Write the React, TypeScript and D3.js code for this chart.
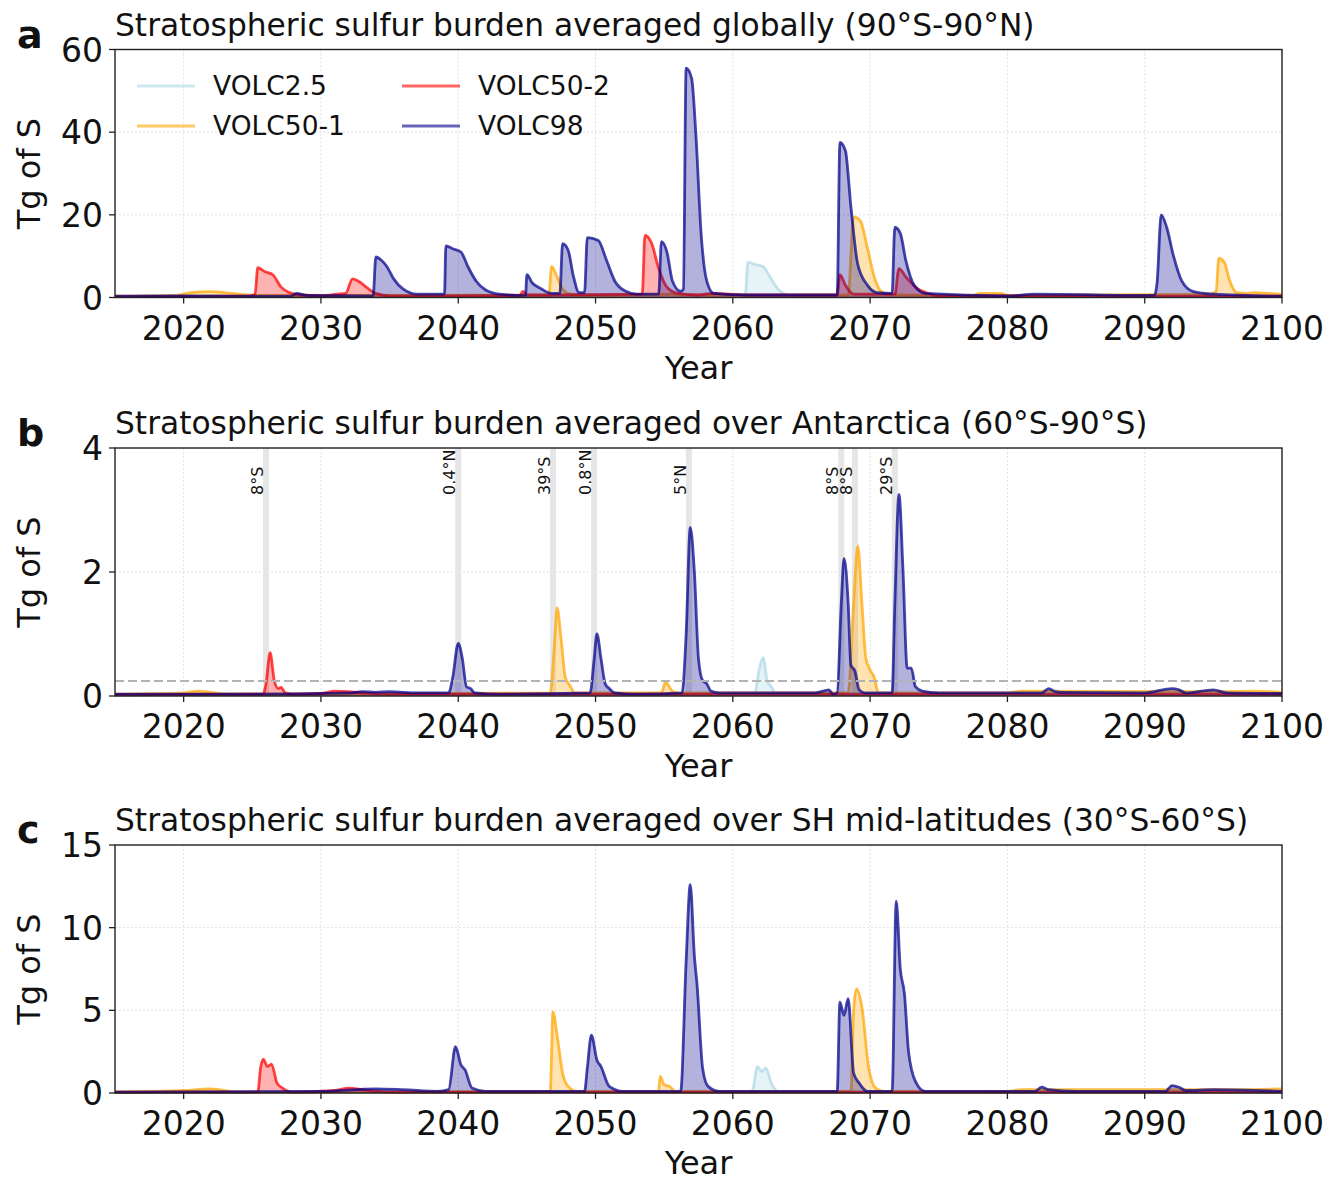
import React from "react";
import * as d3 from "d3";

// series names + colours
const seriesNames = ["VOLC2.5", "VOLC50-1", "VOLC50-2", "VOLC98"];
const seriesColors = ["lightblue", "orange", "red", "darkblue"];

// panel a: global mean burden (Tg S), [year, value]
const globalV25 = [[2015,0.2],[2020,0.5],[2022,0.5],[2024,0.3],[2055,0.5],[2055.5,1],[2056,0.4],[2060.9,0.5],[2061.1,8.5],[2061.6,8],[2062.2,7.5],[2062.7,5],[2063.3,2],[2064,0.6],[2066,0.3],[2100,0.2]];
const globalV501 = [[2015,0.3],[2019.5,0.5],[2020.5,1.2],[2022,1.4],[2023.5,1.0],[2025,0.5],[2046.6,0.6],[2046.8,7.5],[2047.2,5],[2047.6,2],[2048.2,0.8],[2050,0.5],[2055,0.8],[2060,0.5],[2068.4,0.6],[2068.8,19.5],[2069.3,18.5],[2069.8,12],[2070.3,5],[2070.8,1.5],[2071.5,0.6],[2077.5,0.5],[2078,1],[2079.5,1],[2080,0.5],[2094.8,0.8],[2095.2,1.5],[2095.4,9.5],[2095.8,8.5],[2096.2,4],[2096.7,1.2],[2097.5,1.0],[2098,1.2],[2099,1],[2100,0.8]];
const globalV502 = [[2015,0.2],[2024.5,0.3],[2025.2,0.8],[2025.4,7.2],[2025.9,6.3],[2026.5,5.5],[2027.1,2.5],[2027.7,1.2],[2028.5,0.6],[2030,0.4],[2031.2,0.8],[2031.8,1],[2032.3,4.5],[2032.8,3.8],[2033.3,2.5],[2034,1],[2035,0.4],[2044.5,0.5],[2044.7,1.5],[2045,0.6],[2053.4,0.8],[2053.6,15],[2054.1,13],[2054.6,7],[2055.2,2.5],[2056,1],[2057.5,0.6],[2058.5,1],[2061,0.6],[2067.6,0.6],[2067.8,5.5],[2068.2,3],[2068.8,0.8],[2071.8,0.8],[2072.1,7],[2072.6,5],[2073.3,2.5],[2074.2,1],[2075,0.4],[2100,0.3]];
const globalV98 = [[2015,0.3],[2020,0.4],[2022,0.3],[2027.8,0.3],[2028.2,1.0],[2029,0.5],[2033.8,0.4],[2034.0,9.8],[2034.4,9.0],[2034.8,7.5],[2035.3,4.5],[2036,2.0],[2037,0.8],[2039.0,0.8],[2039.1,12.5],[2039.6,11.8],[2040.2,11.0],[2040.7,7.5],[2041.3,4],[2042,1.8],[2043,0.8],[2044.9,0.5],[2045.0,5.5],[2045.4,3.5],[2046,2.2],[2046.8,1.0],[2047.4,1.0],[2047.6,13],[2048.0,11.5],[2048.4,5],[2048.8,1.2],[2049.2,1.2],[2049.4,14.5],[2050.2,13.8],[2050.8,9],[2051.4,4],[2052.2,1.5],[2053,0.8],[2054.6,0.8],[2054.8,13.5],[2055.2,11],[2055.6,4],[2056.2,1.5],[2056.4,2],[2056.6,55.5],[2057.0,53],[2057.3,40],[2057.7,15],[2058.1,4],[2058.6,1],[2061,0.6],[2067.6,0.6],[2067.8,37.5],[2068.2,35.5],[2068.6,22],[2069.1,8],[2069.8,3],[2070.5,1.2],[2071.6,1],[2071.8,17],[2072.2,15.5],[2072.6,9],[2073.2,3],[2074,1],[2080,0.4],[2082,0.8],[2090.7,0.5],[2090.9,3.5],[2091.2,20],[2091.6,17],[2092.1,10],[2092.7,4],[2093.5,1.5],[2095,0.8],[2100,0.3]];

// panel b: Antarctica
const antV25 = [[2015,0.02],[2038.5,0.05],[2039,0.03],[2061.6,0.04],[2061.9,0.4],[2062.2,0.62],[2062.5,0.25],[2062.8,0.15],[2063.1,0.05],[2100,0.02]];
const antV501 = [[2015,0.03],[2020,0.05],[2021,0.08],[2022,0.06],[2023,0.03],[2046.7,0.05],[2047.0,0.8],[2047.2,1.42],[2047.5,0.9],[2047.8,0.3],[2048.1,0.18],[2048.5,0.05],[2054.8,0.05],[2055.1,0.22],[2055.6,0.08],[2056,0.05],[2068.4,0.05],[2068.8,1.5],[2069.1,2.42],[2069.4,1.5],[2069.7,0.6],[2070.0,0.42],[2070.3,0.3],[2070.6,0.05],[2080,0.05],[2081,0.08],[2095,0.07],[2098,0.08],[2100,0.06]];
const antV502 = [[2015,0.02],[2025.8,0.03],[2026.0,0.2],[2026.3,0.7],[2026.6,0.25],[2026.9,0.12],[2027.1,0.14],[2027.4,0.05],[2028,0.03],[2030,0.04],[2031,0.08],[2032,0.07],[2033,0.05],[2035,0.03],[2100,0.03]];
const antV98 = [[2015,0.03],[2025,0.03],[2032,0.05],[2033,0.07],[2034,0.06],[2035,0.07],[2037,0.05],[2039.3,0.05],[2039.6,0.3],[2040.0,0.85],[2040.3,0.6],[2040.6,0.15],[2040.9,0.12],[2041.2,0.05],[2043,0.03],[2049.6,0.05],[2049.9,0.6],[2050.1,1.0],[2050.4,0.6],[2050.7,0.2],[2051,0.12],[2051.4,0.05],[2053,0.03],[2056.3,0.05],[2056.6,1.0],[2056.9,2.72],[2057.2,2.0],[2057.5,0.6],[2057.8,0.25],[2058.1,0.2],[2058.4,0.08],[2059,0.05],[2066,0.05],[2067,0.1],[2067.3,0.03],[2067.6,0.05],[2067.9,1.5],[2068.1,2.22],[2068.4,1.5],[2068.6,0.5],[2068.9,0.4],[2069.2,0.1],[2069.6,0.05],[2071.6,0.05],[2071.8,1.5],[2072.1,3.25],[2072.4,2.0],[2072.7,0.45],[2073.0,0.45],[2073.3,0.15],[2073.8,0.08],[2075,0.05],[2082.5,0.05],[2083,0.12],[2083.5,0.07],[2084,0.06],[2090,0.05],[2092,0.12],[2092.5,0.1],[2093,0.05],[2095,0.1],[2096,0.05],[2100,0.04]];

// panel c: SH mid-latitudes
const shV25 = [[2015,0.05],[2020,0.1],[2023,0.05],[2061.4,0.1],[2061.8,1.6],[2062.1,1.3],[2062.4,1.5],[2062.8,0.6],[2063.3,0.1],[2100,0.05]];
const shV501 = [[2015,0.05],[2020,0.15],[2022,0.25],[2024,0.05],[2046.7,0.1],[2046.9,4.9],[2047.2,3.5],[2047.6,1.2],[2048,0.4],[2048.7,0.1],[2054.6,0.1],[2054.7,1.0],[2055,0.5],[2055.4,0.4],[2055.8,0.1],[2068.6,0.1],[2068.8,5],[2069.0,6.3],[2069.4,5.2],[2069.9,1.5],[2070.4,0.3],[2071,0.1],[2080,0.1],[2081,0.2],[2095,0.2],[2100,0.25]];
const shV502 = [[2015,0.05],[2025.4,0.05],[2025.6,1.5],[2025.8,2.05],[2026.1,1.6],[2026.4,1.75],[2026.8,0.6],[2027.2,0.3],[2028,0.05],[2031,0.15],[2032,0.3],[2033,0.2],[2035,0.05],[2100,0.05]];
const shV98 = [[2015,0.05],[2030,0.1],[2034,0.25],[2036,0.2],[2038.5,0.1],[2039.3,0.2],[2039.8,2.8],[2040.2,1.7],[2040.5,1.4],[2041,0.3],[2042,0.1],[2049.2,0.1],[2049.4,1.5],[2049.7,3.5],[2050.1,2],[2050.4,1.6],[2051,0.4],[2052,0.1],[2056.2,0.1],[2056.6,8],[2056.9,12.6],[2057.2,8.3],[2057.4,6.5],[2057.8,1.5],[2058.2,0.4],[2059,0.1],[2067.6,0.1],[2067.8,5.5],[2068.1,4.7],[2068.4,5.7],[2068.8,1.2],[2069.2,0.6],[2069.8,0.1],[2071.6,0.1],[2071.9,11.6],[2072.2,7.5],[2072.5,6],[2072.8,2.5],[2073.3,0.7],[2074,0.1],[2082,0.1],[2082.5,0.35],[2083,0.2],[2085,0.1],[2091.5,0.1],[2092,0.45],[2092.5,0.35],[2093,0.15],[2095,0.2],[2100,0.1]];

// eruptions marked in panel b
const eruptYears = [2026, 2040, 2046.9, 2049.9, 2056.8, 2067.9, 2068.9, 2071.8];
const eruptLabels = ["8°S", "0.4°N", "39°S", "0.8°N", "5°N", "8°S", "8°S", "29°S"];
const antThreshold = 0.24;

const xTicks = [2020, 2030, 2040, 2050, 2060, 2070, 2080, 2090, 2100];

const panels = [
  { letter: "a", title: "Stratospheric sulfur burden averaged globally (90°S-90°N)", yMax: 60, yTicks: [0, 20, 40, 60], series: [globalV25, globalV501, globalV502, globalV98], top: 49.5 },
  { letter: "b", title: "Stratospheric sulfur burden averaged over Antarctica (60°S-90°S)", yMax: 4, yTicks: [0, 2, 4], series: [antV25, antV501, antV502, antV98], top: 448 },
  { letter: "c", title: "Stratospheric sulfur burden averaged over SH mid-latitudes (30°S-60°S)", yMax: 15, yTicks: [0, 5, 10, 15], series: [shV25, shV501, shV502, shV98], top: 845 },
];

const W = 1325;
const H = 1179;
const left = 115;
const right = 1282;
const ph = 248;
const font = "DejaVu Sans, sans-serif";

function Panel({ p }) {
  const x = d3.scaleLinear().domain([2015, 2100]).range([left, right]);
  const y = d3.scaleLinear().domain([0, p.yMax]).range([p.top + ph, p.top]);
  const line = d3.line().curve(d3.curveMonotoneX).x((d) => x(d[0])).y((d) => y(d[1]));
  const area = d3.area().curve(d3.curveMonotoneX).x((d) => x(d[0])).y0(y(0)).y1((d) => y(d[1]));
  const bottom = p.top + ph;

  return (
    <g>
      {/* grid */}
      {xTicks.map((t) => (
        <line key={"gx" + t} x1={x(t)} x2={x(t)} y1={p.top} y2={bottom} stroke="#dcdcdc" strokeWidth={0.9} strokeDasharray="2,2" />
      ))}
      {p.yTicks.map((t) => (
        <line key={"gy" + t} x1={left} x2={right} y1={y(t)} y2={y(t)} stroke="#dcdcdc" strokeWidth={0.9} strokeDasharray="2,2" />
      ))}

      {p.letter === "b" &&
        eruptYears.map((e, i) => (
          <g key={"er" + i}>
            <rect x={x(e) - 3} y={p.top} width={6} height={ph} fill="#e6e6e6" />
            <text transform={`translate(${x(e) - 3},495) rotate(-90)`} fontSize={16} fontFamily={font} fill="#111">
              {eruptLabels[i]}
            </text>
          </g>
        ))}

      {p.series.map((s, i) => (
        <g key={"s" + i}>
          <path d={area(s)} fill={seriesColors[i]} fillOpacity={0.3} />
          <path d={line(s)} fill="none" stroke={seriesColors[i]} strokeOpacity={0.72} strokeWidth={2.8} strokeLinejoin="round" />
        </g>
      ))}

      {p.letter === "b" && (
        <line x1={left} x2={right} y1={y(antThreshold)} y2={y(antThreshold)} stroke="#b3b3b3" strokeWidth={2} strokeDasharray="9,4" />
      )}

      {/* frame */}
      <rect x={left} y={p.top} width={right - left} height={ph} fill="none" stroke="#222" strokeWidth={1.4} />

      {/* x axis */}
      {xTicks.map((t) => (
        <g key={"xt" + t}>
          <line x1={x(t)} x2={x(t)} y1={bottom} y2={bottom + 6} stroke="#222" strokeWidth={1.3} />
          <text x={x(t)} y={bottom + 42} textAnchor="middle" fontSize={33} fontFamily={font} fill="#111">{t}</text>
        </g>
      ))}
      <text x={(left + right) / 2} y={bottom + 81} textAnchor="middle" fontSize={32} fontFamily={font} fill="#111">Year</text>

      {/* y axis */}
      {p.yTicks.map((t) => (
        <g key={"yt" + t}>
          <line x1={left - 6} x2={left} y1={y(t)} y2={y(t)} stroke="#222" strokeWidth={1.3} />
          <text x={left - 12} y={y(t) + 12} textAnchor="end" fontSize={33} fontFamily={font} fill="#111">{t}</text>
        </g>
      ))}
      <text transform={`translate(40,${p.top + ph / 2}) rotate(-90)`} textAnchor="middle" fontSize={32} fontFamily={font} fill="#111">Tg of S</text>

      <text x={left} y={p.top - 14} fontSize={31.3} fontFamily={font} fill="#111">{p.title}</text>
      <text x={17} y={p.top - 2} fontSize={38} fontWeight="bold" fontFamily={font} fill="#111">{p.letter}</text>
    </g>
  );
}

function Legend() {
  const cols = [137, 402];
  const rows = [86, 126];
  return (
    <g>
      {seriesNames.map((n, i) => {
        const cx = cols[Math.floor(i / 2)];
        const cy = rows[i % 2];
        return (
          <g key={n}>
            <line x1={cx} x2={cx + 58} y1={cy} y2={cy} stroke={seriesColors[i]} strokeOpacity={0.6} strokeWidth={2.8} />
            <text x={cx + 76} y={cy + 9} fontSize={26.5} fontFamily={font} fill="#111">{n}</text>
          </g>
        );
      })}
    </g>
  );
}

export default function App() {
  return (
    <svg width={W} height={H} style={{ position: "absolute", left: 0, top: 0, background: "#fff" }}>
      <rect width={W} height={H} fill="#fff" />
      {panels.map((p) => (
        <Panel key={p.letter} p={p} />
      ))}
      <Legend />
    </svg>
  );
}
